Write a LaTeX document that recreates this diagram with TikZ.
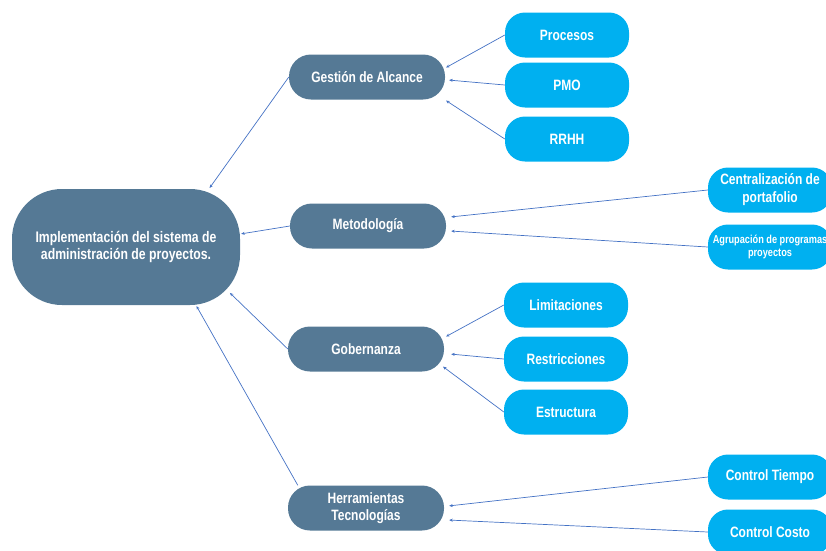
\documentclass[tikz,border=0pt]{standalone}
\usepackage{fontspec}
\setmainfont{Liberation Sans}[FakeStretch=0.80]
\usetikzlibrary{arrows.meta}
\definecolor{myslate}{RGB}{85,121,149}
\definecolor{mycyan}{RGB}{0,176,240}
\definecolor{myline}{RGB}{68,114,196}

\begin{document}
\begin{tikzpicture}[x=1pt,y=-1pt,
  topic/.style={fill=myslate, text=white, rounded corners=22pt, minimum width=156pt, minimum height=45pt, inner sep=0pt, align=center, font=\bfseries\fontsize{15}{17}\selectfont},
  leaf/.style={fill=mycyan, text=white, rounded corners=20pt, minimum width=124pt, minimum height=45pt, inner sep=0pt, align=center, font=\bfseries\fontsize{15}{18}\selectfont},
  link/.style={draw=myline, line width=0.7pt, -{Stealth[length=3.5pt,width=3pt]}, shorten >=1pt}]

\useasboundingbox (0,0) rectangle (826,550);
\clip (0,0) rectangle (826,550);

\node[fill=myslate, text=white, rounded corners=50pt, minimum width=228pt, minimum height=116pt, inner sep=0pt, align=center, font=\bfseries\fontsize{15.3}{17}\selectfont] (root) at (126,247) {Implementación del sistema de\\administración de proyectos.};

\node[topic] (gest) at (367,77) {Gestión de Alcance};
\node[topic] (meto) at (368,226) {Metodología};
\node[topic] (gob) at (366,349) {Gobernanza};
\node[topic] (herr) at (366,508) {Herramientas\\Tecnologías};

\node[leaf] (proc) at (567,35) {Procesos};
\node[leaf] (pmo) at (567,85) {PMO};
\node[leaf] (rrhh) at (567,139) {RRHH};

\node[leaf] (cent) at (770,190) {Centralización de\\portafolio};
\node[leaf, font=\bfseries\fontsize{11.5}{13}\selectfont] (agr) at (770,247) {Agrupación de programas\\proyectos};

\node[leaf] (lim) at (566,305) {Limitaciones};
\node[leaf] (res) at (566,359) {Restricciones};
\node[leaf] (est) at (566,412) {Estructura};

\node[leaf] (ct) at (770,477) {Control Tiempo};
\node[leaf] (cc) at (770,532) {Control Costo};

\draw[link] (gest.west) -- ([xshift=83pt]root.north);
\draw[link] (meto.west) -- ([yshift=13pt]root.east);
\draw[link] (gob.west) -- ([shift={(-11pt,13pt)}]root.south east);
\draw[link] ([xshift=10pt]herr.north west) -- ([xshift=70pt]root.south);

\draw[link] (proc.west) -- ([yshift=9pt]gest.east);
\draw[link] (pmo.west) -- ([xshift=3pt,yshift=-3pt]gest.east);
\draw[link] (rrhh.west) -- ([yshift=-23pt]gest.east);

\draw[link] (cent.west) -- ([xshift=4pt,yshift=9pt]meto.east);
\draw[link] (agr.west) -- ([xshift=4pt,yshift=-5pt]meto.east);

\draw[link] (lim.west) -- ([xshift=1pt,yshift=12pt]gob.east);
\draw[link] (res.west) -- ([xshift=6pt,yshift=-5pt]gob.east);
\draw[link] (est.west) -- ([xshift=-2pt,yshift=-17pt]gob.east);

\draw[link] (ct.west) -- ([xshift=4pt,yshift=2pt]herr.east);
\draw[link] (cc.west) -- ([xshift=4pt,yshift=-12pt]herr.east);
\end{tikzpicture}
\end{document}
